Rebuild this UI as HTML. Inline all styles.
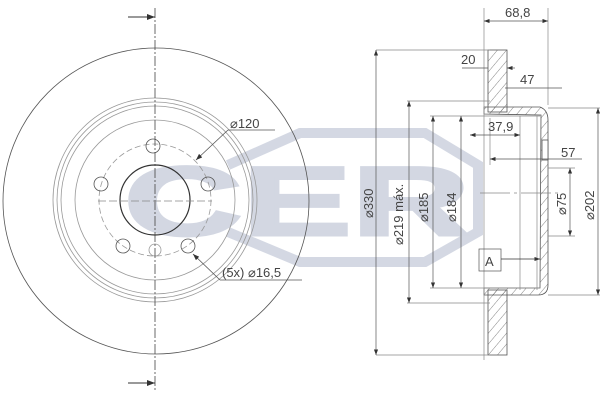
<!DOCTYPE html>
<html><head><style>body{margin:0;background:#fff}svg{display:block}text{font-family:"Liberation Sans",sans-serif;fill:#444}</style></head><body>
<svg width="600" height="400" viewBox="0 0 600 400" xmlns="http://www.w3.org/2000/svg">
<defs>
<pattern id="h" width="7" height="7" patternUnits="userSpaceOnUse" patternTransform="rotate(40)"><line x1="0" y1="0" x2="0" y2="7" stroke="#666" stroke-width="0.8"/></pattern>
<marker id="a" markerWidth="8" markerHeight="6" refX="8" refY="3" orient="auto-start-reverse"><path d="M0,0L8,3L0,6z" fill="#333"/></marker>
</defs>
<!-- watermark -->
<g opacity="0.5">
<path d="M228,165 L300,133 L425,133 L478,165 L478,232 L425,262 L300,262 L228,232" fill="none" stroke="#aab3c9" stroke-width="10"/>
<text x="124" y="235" font-size="98" font-weight="bold" style="fill:#a8b1c7;stroke:#a8b1c7;stroke-width:3" textLength="346" lengthAdjust="spacingAndGlyphs">CER</text>
</g>
<!-- left view -->
<g fill="none" stroke="#555" stroke-width="0.8">
<circle cx="156" cy="201" r="153"/>
<circle cx="155" cy="200" r="102" stroke="#999"/>
<circle cx="155" cy="200" r="98" stroke="#999"/>
<circle cx="155" cy="200" r="94" stroke="#999"/>
<circle cx="155" cy="200" r="80" stroke="#999"/>
<circle cx="155" cy="200" r="56" stroke="#999" stroke-dasharray="6,3"/>
<circle cx="155" cy="200" r="35" stroke="#333" stroke-width="1.2"/>
<circle cx="153" cy="146" r="7"/><circle cx="101" cy="184" r="7"/><circle cx="208" cy="184" r="7"/><circle cx="123" cy="246" r="7"/><circle cx="188" cy="246" r="7"/><circle cx="155" cy="250" r="6" stroke="#999"/>
<line x1="155" y1="8" x2="155" y2="392" stroke="#444" stroke-dasharray="10,2,2,2"/>
<line x1="98" y1="201" x2="212" y2="201" stroke="#888" stroke-dasharray="8,3"/>
<line x1="196" y1="160" x2="228" y2="130" marker-start="url(#a)"/>
<line x1="228" y1="130" x2="275" y2="130"/>
<line x1="193" y1="254" x2="220" y2="280" marker-start="url(#a)"/>
<line x1="220" y1="280" x2="302" y2="280"/>
</g>
<line x1="128" y1="17" x2="155" y2="17" stroke="#333" marker-end="url(#a)"/>
<line x1="128" y1="383" x2="155" y2="383" stroke="#333" marker-end="url(#a)"/>
<text x="230" y="128" font-size="13">⌀120</text>
<text x="222" y="277" font-size="13">(5x) ⌀16,5</text>
<!-- right section -->
<g stroke="#555" stroke-width="0.8">
<rect x="488" y="50" width="19" height="62" fill="url(#h)"/>
<rect x="488" y="290" width="19" height="65" fill="url(#h)"/>
<path d="M484,107 L540,107 Q548,110 548,120 L548,285 Q548,295 538,295 L484,295 L484,288 L540,288 L541,115 L484,114 Z" fill="url(#h)"/>
<rect x="542" y="140" width="6" height="20" fill="#fff"/>
</g>
<g fill="none" stroke="#888" stroke-width="0.7">
<line x1="484" y1="8" x2="484" y2="360"/><line x1="548" y1="8" x2="548" y2="105"/>
<line x1="376" y1="50" x2="490" y2="50"/><line x1="376" y1="355" x2="490" y2="355"/>
<line x1="407" y1="101" x2="490" y2="101"/><line x1="407" y1="303" x2="490" y2="303"/>
<line x1="430" y1="116" x2="540" y2="116"/><line x1="430" y1="288" x2="540" y2="288"/>
<line x1="548" y1="108" x2="600" y2="108"/><line x1="548" y1="295" x2="600" y2="295"/>
<line x1="548" y1="168" x2="575" y2="168"/><line x1="548" y1="236" x2="575" y2="236"/>
<line x1="520" y1="116" x2="520" y2="290"/><line x1="537" y1="116" x2="537" y2="290"/>
<line x1="490" y1="118" x2="490" y2="165"/>
<line x1="480" y1="193" x2="560" y2="193" stroke-dasharray="30,4,3,4"/>
</g>
<g stroke="#555" stroke-width="0.7" fill="none">
<line x1="484" y1="21" x2="548" y2="21" marker-start="url(#a)" marker-end="url(#a)"/>
<line x1="376" y1="50" x2="376" y2="355" marker-start="url(#a)" marker-end="url(#a)"/>
<line x1="409" y1="101" x2="409" y2="303" marker-start="url(#a)" marker-end="url(#a)"/>
<line x1="433" y1="116" x2="433" y2="288" marker-start="url(#a)" marker-end="url(#a)"/>
<line x1="461" y1="116" x2="461" y2="288" marker-start="url(#a)" marker-end="url(#a)"/>
<line x1="570" y1="168" x2="570" y2="236" marker-start="url(#a)" marker-end="url(#a)"/>
<line x1="598" y1="108" x2="598" y2="295" marker-start="url(#a)" marker-end="url(#a)"/>
<line x1="462" y1="68" x2="488" y2="68"/><line x1="507" y1="68" x2="515" y2="68" marker-start="url(#a)"/>
<line x1="505" y1="88" x2="562" y2="88"/>
<line x1="470" y1="135" x2="520" y2="135" marker-start="url(#a)" marker-end="url(#a)"/>
<line x1="490" y1="159" x2="582" y2="159" marker-start="url(#a)"/>
<rect x="479" y="249" width="22" height="22"/>
<line x1="501" y1="259" x2="540" y2="259" stroke="#333" marker-end="url(#a)"/>
</g>
<g font-size="13">
<text x="505" y="17">68,8</text>
<text x="461" y="64">20</text>
<text x="520" y="84">47</text>
<text x="488" y="131">37,9</text>
<text x="561" y="157">57</text>
<text x="485" y="266">A</text>
<text transform="translate(373,218) rotate(-90)">⌀330</text>
<text transform="translate(403,245) rotate(-90)">⌀219 máx.</text>
<text transform="translate(428,222) rotate(-90)">⌀185</text>
<text transform="translate(456,222) rotate(-90)">⌀184</text>
<text transform="translate(566,215) rotate(-90)">⌀75</text>
<text transform="translate(594,220) rotate(-90)">⌀202</text>
</g>
</svg>
</body></html>
